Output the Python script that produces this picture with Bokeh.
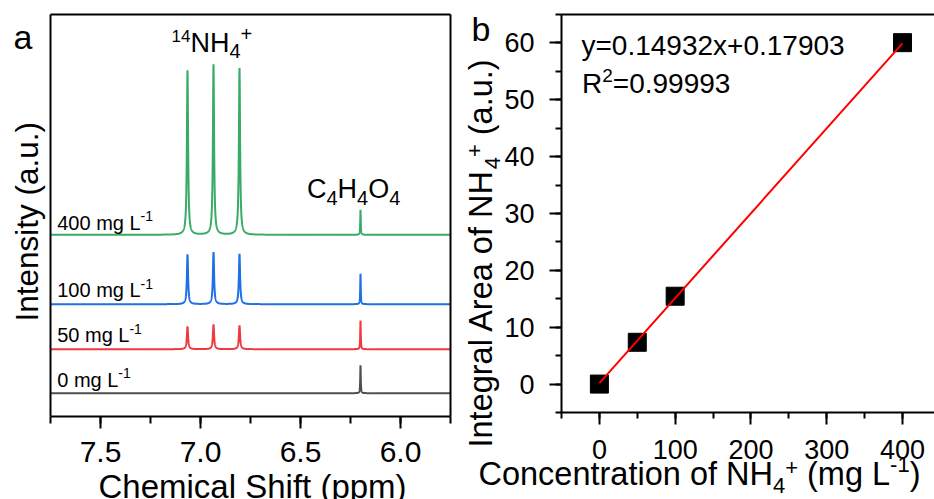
import numpy as np
from bokeh.plotting import figure
from bokeh.models import (Range1d, SingleIntervalTicker, LinearAxis, FixedTicker, Label,
                          PrintfTickFormatter)
from bokeh.embed import file_html
from bokeh.resources import INLINE

FONT = "Liberation Sans"

# ---------------- data: panel a (1H NMR spectra) ----------------
conc_labels = ["0", "50", "100", "400"]
nh4_shifts = [7.065, 6.935, 6.805]
nh4_heights = [[0.0, 0.0, 0.0],
               [22.7, 24.7, 23.7],
               [49.7, 52.0, 50.4],
               [164.3, 170.3, 166.6]]
ma_shift = 6.20
ma_heights = [28.0, 28.7, 30.4, 25.0]
nh4_hwhm = 0.0035
ma_hwhm = 0.0015
ppm_span = (5.75, 7.75)

# ---------------- data: panel b (calibration) ----------------
conc = [0, 50, 100, 400]
area = [0.0, 7.35, 15.45, 60.05]
slope = 0.14932
intercept = 0.17903
r2 = "0.99993"
conc_span = (-50, 450)
area_span = (-5, 65)

# ---------------- styles / layout ----------------
trace_colors = ["#4f4f4f", "#f0393f", "#1f6fe5", "#38ab66"]
trace_offsets = [23.3, 67.3, 112.3, 181.7]
W_PX, H_PX = 934, 499
A_L, A_R, A_T, A_B = 50, 450, 14, 416          # panel a box (page px)
B_L, B_X400, B_T, B_B = 561, 902, 14, 412       # panel b axes (page px)
BASELINE_CORR = 0.345                           # label anchor is the text-box centre

W = {c: 556 for c in "0123456789"}
W.update({' ': 278, '.': 278, '-': 333, '+': 584, '=': 584, '(': 333, ')': 333,
          'a': 556, 'b': 556, 'c': 500, 'e': 556, 'f': 278, 'g': 556, 'h': 556,
          'i': 222, 'l': 222, 'm': 833, 'n': 556, 'o': 556, 'p': 556, 'r': 333,
          's': 500, 't': 278, 'u': 556, 'x': 500, 'y': 500, 'A': 667, 'C': 722,
          'H': 722, 'I': 278, 'L': 556, 'N': 722, 'O': 778, 'R': 722, 'S': 667})


def tw(s, size):
    return sum(W.get(c, 556) for c in s) / 1000.0 * size


# panel a scales: 1 unit of intensity = 1 px
sa = (A_R - A_L) / (ppm_span[1] - ppm_span[0])
xa_range = Range1d(ppm_span[1] + A_L / sa, ppm_span[0] - (W_PX - A_R) / sa)
ya_range = Range1d(-(H_PX - A_B), A_B)
box_top = A_B - A_T

# panel b scales
sbx = (B_X400 - B_L) / (400 - conc_span[0])
sby = (B_B - B_T) / (area_span[1] - area_span[0])
xb_range = Range1d(conc_span[0] - B_L / sbx, conc_span[0] + (W_PX - B_L) / sbx)
yb_range = Range1d(area_span[0] - (H_PX - B_B) / sby, area_span[1] + B_T / sby)

p = figure(width=W_PX, height=H_PX, x_range=xa_range, y_range=ya_range,
           output_backend="svg", toolbar_location=None,
           x_axis_location=None, y_axis_location=None, min_border=0)
p.extra_x_ranges = {"b": xb_range}
p.extra_y_ranges = {"b": yb_range}
p.grid.visible = False
p.outline_line_color = None
p.background_fill_color = "white"
p.border_fill_color = "white"


def style_axis(ax, font_px, standoff, tick_out=12, minor_out=6):
    ax.axis_line_width = 2
    ax.axis_line_color = "black"
    ax.major_tick_line_width = 2
    ax.minor_tick_line_width = 2
    ax.major_tick_out = tick_out
    ax.major_tick_in = 0
    ax.minor_tick_out = minor_out
    ax.minor_tick_in = 0
    ax.major_label_text_font = FONT
    ax.major_label_text_font_size = f"{font_px}px"
    ax.major_label_text_color = "black"
    ax.major_label_standoff = standoff


def plain_line_axis(side, loc, bounds, xr="default", yr="default"):
    ax = LinearAxis(x_range_name=xr, y_range_name=yr, fixed_location=loc, bounds=bounds,
                    ticker=FixedTicker(ticks=[], minor_ticks=[]))
    style_axis(ax, 10, 0, 0, 0)
    p.add_layout(ax, side)
    return ax


# ================= panel a =================
xa = LinearAxis(fixed_location=0, bounds=ppm_span,
                ticker=SingleIntervalTicker(interval=0.5, num_minor_ticks=2),
                formatter=PrintfTickFormatter(format="%.1f"))
style_axis(xa, 30, 13, 12, 7)
p.add_layout(xa, "below")
plain_line_axis("above", box_top, ppm_span)
plain_line_axis("left", ppm_span[1], (0, box_top))
plain_line_axis("right", ppm_span[0], (0, box_top))

ppm = np.linspace(ppm_span[0], ppm_span[1], 4001)
for i in range(len(conc_labels)):
    y = np.full_like(ppm, trace_offsets[i])
    for s, h in zip(nh4_shifts, nh4_heights[i]):
        y += h * nh4_hwhm ** 2 / ((ppm - s) ** 2 + nh4_hwhm ** 2)
    y += ma_heights[i] * ma_hwhm ** 2 / ((ppm - ma_shift) ** 2 + ma_hwhm ** 2)
    p.line(ppm, y, line_color=trace_colors[i], line_width=2)

# ================= panel b =================
xb = LinearAxis(x_range_name="b", y_range_name="b", fixed_location=area_span[0],
                bounds=(conc_span[0], xb_range.end),
                ticker=SingleIntervalTicker(interval=100, num_minor_ticks=2))
style_axis(xb, 27, 15)
p.add_layout(xb, "below")
yb = LinearAxis(x_range_name="b", y_range_name="b", fixed_location=conc_span[0],
                bounds=area_span,
                ticker=SingleIntervalTicker(interval=10, num_minor_ticks=2))
style_axis(yb, 27, 15)
p.add_layout(yb, "left")
plain_line_axis("above", area_span[1], (conc_span[0], xb_range.end), "b", "b")

fit_x = np.array([conc[0], conc[-1]], dtype=float)
fit_y = slope * fit_x + intercept
p.scatter(conc, area, marker="square", size=18, color="black",
          x_range_name="b", y_range_name="b")
p.line(fit_x, fit_y, line_color="#ff0000", line_width=2,
       x_range_name="b", y_range_name="b")


# ================= texts =================
def rich(gx, gy, pieces, angle=0.0):
    """Run of text pieces (text, size px, baseline shift px); (gx, gy) = page px of baseline start."""
    pos = 0.0
    for text, size, shift in pieces:
        lead = len(text) - len(text.lstrip(' '))
        pos += tw(' ' * lead, size)
        text = text.lstrip(' ')
        up = shift + BASELINE_CORR * size
        if angle == 0:
            sx, sy = gx + pos, gy - up
        else:
            sx, sy = gx - up, gy - pos
        p.add_layout(Label(x=sx, y=H_PX - sy, x_units="screen", y_units="screen",
                           text=text, text_font=FONT, text_font_size=f"{size}px",
                           text_baseline="alphabetic", text_align="left",
                           angle=angle, text_color="black"))
        pos += tw(text, size)


label_y = [386, 341.7, 296.7, 229]
for i, c in enumerate(conc_labels):
    rich(56.7, label_y[i], [(f"{c} mg L", 20, 0), ("-1", 14, 8.5)])

rich(171, 51.7, [("14", 17, 10), ("NH", 27, 0), ("4", 20, -6), ("+", 20, 11)])
rich(306.5, 198, [("C", 27, 0), ("4", 20, -6), ("H", 27, 0), ("4", 20, -6),
                  ("O", 27, 0), ("4", 20, -6)])
rich(13, 48, [("a", 34, 0)])
rich(98, 497, [("Chemical Shift (ppm)", 33, 0)])
rich(37, 321, [("Intensity (a.u.)", 31.5, 0)], angle=np.pi / 2)

rich(581, 55, [(f"y={slope}x+{intercept}", 28, 0)])
rich(581.5, 93, [("R", 28, 0), ("2", 19, 11), (f"={r2}", 28, 0)])
rich(471, 40, [("b", 34, 0)])
rich(478, 485, [("Concentration of NH", 32.5, 0), ("4", 22, -8), ("+", 22, 10),
                (" (mg L", 32.5, 0), ("-1", 22, 13), (")", 32.5, 0)])
rich(492, 447, [("Integral Area of NH", 32.5, 0), ("4", 22, -8), ("+", 22, 10),
                (" (a.u.)", 32.5, 0)], angle=np.pi / 2)

open("out.html", "w").write(file_html(p, INLINE))
